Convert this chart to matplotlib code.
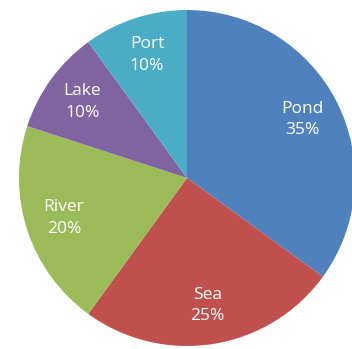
import matplotlib
matplotlib.use("Agg")
import matplotlib.pyplot as plt

# Share of water bodies
labels = ["Pond", "Sea", "River", "Lake", "Port"]
shares = [35, 25, 20, 10, 10]
colors = ["#4F81BD", "#C0504D", "#9BBB59", "#8064A2", "#4BACC6"]

plt.rcParams['font.family'] = ['Open Sans', 'DejaVu Sans']

fig = plt.figure(figsize=(3.52, 3.49), dpi=100)
ax = fig.add_axes([0, 0, 1, 1])

wedges, texts = ax.pie(
    shares,
    colors=colors,
    startangle=90,
    counterclock=False,
    radius=1,
    labels=[f"{n}\n{v}%" for n, v in zip(labels, shares)],
    labeldistance=0.77,
    textprops=dict(color="white", fontsize=12.5, ha="center", va="center",
                   linespacing=1.45),
)
for t in texts:
    t.set_ha("center")

# pixel layout: centre at (187, 178) px, radius 168 px
r = 168.0
ax.set_xlim(-187 / r, (352 - 187) / r)
ax.set_ylim(-(349 - 178) / r, 178 / r)
ax.set_aspect("equal")
ax.axis("off")

fig.savefig("out.png", dpi=100)
